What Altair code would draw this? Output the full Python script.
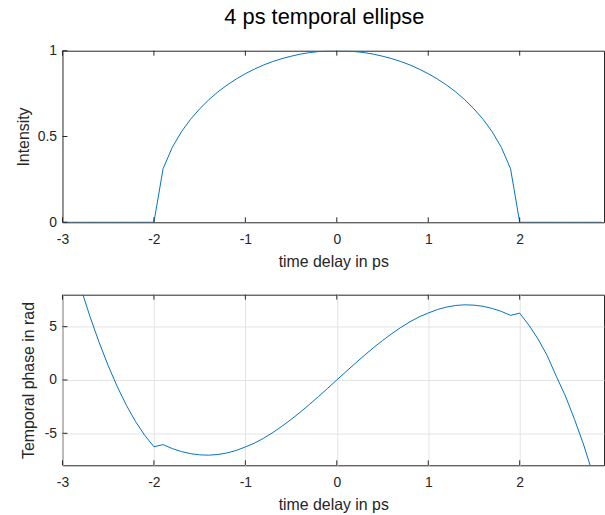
import altair as alt
import pandas as pd

# time axis (ps)
t = [-3.0, -2.9, -2.8, -2.7, -2.6, -2.5, -2.4, -2.3, -2.2, -2.1,
     -2.0, -1.9, -1.8, -1.7, -1.6, -1.5, -1.4, -1.3, -1.2, -1.1,
     -1.0, -0.9, -0.8, -0.7, -0.6, -0.5, -0.4, -0.3, -0.2, -0.1,
     0.0, 0.1, 0.2, 0.3, 0.4, 0.5, 0.6, 0.7, 0.8, 0.9,
     1.0, 1.1, 1.2, 1.3, 1.4, 1.5, 1.6, 1.7, 1.8, 1.9,
     2.0, 2.1, 2.2, 2.3, 2.4, 2.5, 2.6, 2.7, 2.8, 2.9]

intensity = [0, 0, 0, 0, 0, 0, 0, 0, 0, 0,
             0, 0.312, 0.436, 0.527, 0.600, 0.661, 0.714, 0.760, 0.800, 0.835,
             0.866, 0.893, 0.917, 0.937, 0.954, 0.968, 0.980, 0.989, 0.995, 0.999,
             1.0, 0.999, 0.995, 0.989, 0.980, 0.968, 0.954, 0.937, 0.917, 0.893,
             0.866, 0.835, 0.800, 0.760, 0.714, 0.661, 0.600, 0.527, 0.436, 0.312,
             0, 0, 0, 0, 0, 0, 0, 0, 0, 0]

phase = [14.6, 11.5, 8.63, 5.97, 3.54, 1.34, -0.64, -2.39, -3.91, -5.20,
         -6.26, -6.06, -6.43, -6.71, -6.91, -7.02, -7.05, -6.99, -6.84, -6.61,
         -6.28, -5.92, -5.46, -4.93, -4.34, -3.70, -3.02, -2.30, -1.55, -0.78,
         0.0, 0.78, 1.55, 2.30, 3.02, 3.70, 4.34, 4.93, 5.46, 5.92,
         6.28, 6.61, 6.84, 6.99, 7.05, 7.02, 6.91, 6.71, 6.43, 6.06,
         6.27, 5.15, 3.85, 2.30, 0.35, -1.50, -3.70, -6.10, -8.80, -11.70]

x_ticks = [-3, -2, -1, 0, 1, 2]
y_ticks_top = [0, 0.5, 1]
y_ticks_bottom = [-5, 0, 5]

X_DOMAIN = [-3, 2.922]
W = 546
H_TOP = 173
H_BOT = 172
LINE_COLOR = "#0072BD"
AX_COLOR = "#262626"
FONT = "Liberation Sans"

df = pd.DataFrame({"t": t, "intensity": intensity, "phase": phase})
xt = pd.DataFrame({"v": x_ticks})


def make_panel(ycol, ydomain, yvals, ytitle, grid, h, ytitlepad):
    xs = alt.Scale(domain=X_DOMAIN, nice=False, zero=False)
    ys = alt.Scale(domain=ydomain, nice=False, zero=False)
    xax = alt.Axis(values=x_ticks, title="time delay in ps", grid=grid,
                   labelExpr="'' + datum.value", labelPadding=10, titlePadding=8,
                   labelFlush=False)
    yax = alt.Axis(values=yvals, title=ytitle, grid=grid,
                   labelExpr="'' + datum.value", labelPadding=6,
                   titlePadding=ytitlepad, labelFlush=False)
    yt = pd.DataFrame({"v": yvals})

    line = alt.Chart(df).mark_line(color=LINE_COLOR, strokeWidth=1, clip=True).encode(
        x=alt.X("t:Q", scale=xs, axis=xax),
        y=alt.Y(f"{ycol}:Q", scale=ys, axis=yax),
    )
    tick_bottom = alt.Chart(xt).mark_rule(color=AX_COLOR, strokeWidth=1).encode(
        x=alt.X("v:Q", scale=xs, axis=xax),
        y=alt.value(h), y2=alt.value(h - 5))
    tick_top = alt.Chart(xt).mark_rule(color=AX_COLOR, strokeWidth=1).encode(
        x=alt.X("v:Q", scale=xs, axis=xax),
        y=alt.value(0), y2=alt.value(5))
    tick_left = alt.Chart(yt).mark_rule(color=AX_COLOR, strokeWidth=1).encode(
        y=alt.Y("v:Q", scale=ys, axis=yax),
        x=alt.value(0), x2=alt.value(5))
    return alt.layer(line, tick_bottom, tick_top, tick_left).properties(
        width=W, height=h)


top_chart = make_panel("intensity", [0, 1], y_ticks_top, "Intensity", False, H_TOP, 6)
bot_chart = make_panel("phase", [-8, 8], y_ticks_bottom, "Temporal phase in rad",
                       True, H_BOT, 8)

chart = alt.vconcat(top_chart, bot_chart, spacing=73, bounds="flush").properties(
    title=alt.TitleParams("4 ps temporal ellipse", font=FONT, fontSize=22,
                          fontWeight="normal", color="#000000", anchor="middle",
                          frame="group", offset=14, dx=-9),
    autosize=alt.AutoSizeParams(type="pad"),
    padding={"left": 15, "top": 4, "right": 0, "bottom": 0},
).configure_view(
    stroke=AX_COLOR, strokeWidth=1
).configure_axis(
    domain=False, ticks=False,
    labelFont=FONT, labelFontSize=14, labelColor=AX_COLOR,
    titleFont=FONT, titleFontSize=16, titleColor=AX_COLOR, titleFontWeight="normal",
    gridColor="#e3e3e3", gridWidth=1,
)

chart.save("out.html", embed_options={"renderer": "svg", "actions": False})
